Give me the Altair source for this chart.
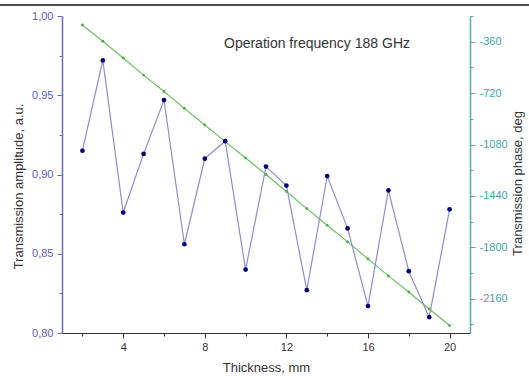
import altair as alt
import pandas as pd

thickness = [2, 3, 4, 5, 6, 7, 8, 9, 10, 11, 12, 13, 14, 15, 16, 17, 18, 19, 20]
amplitude = [0.915, 0.972, 0.876, 0.913, 0.947, 0.856, 0.910, 0.921, 0.840, 0.905,
             0.893, 0.827, 0.899, 0.866, 0.817, 0.890, 0.839, 0.810, 0.878]
phase = [-243, -357, -474, -594, -709, -827, -943, -1060, -1174, -1290,
         -1409, -1529, -1646, -1762, -1881, -2000, -2113, -2232, -2348]

x_ticks = [2, 4, 6, 8, 10, 12, 14, 16, 18, 20]
amp_ticks = [0.80, 0.825, 0.85, 0.875, 0.90, 0.925, 0.95, 0.975, 1.00]
phase_ticks = [-2340, -2160, -1980, -1800, -1620, -1440, -1260, -1080, -900,
               -720, -540, -360, -180]

df = pd.DataFrame({"t": thickness, "amp": amplitude, "ph": phase})

FONT = "Liberation Sans"
AMP_AXIS = "#6a6ac6"
AMP_LABEL = "#5a5abf"
PH_AXIS = "#52adad"
PH_LABEL = "#3ea6a6"

x_enc = alt.X(
    "t:Q",
    scale=alt.Scale(domain=[1, 21], nice=False),
    axis=alt.Axis(
        title="Thickness, mm",
        values=x_ticks,
        labelExpr="datum.value % 4 == 0 ? datum.label : ''",
        tickSize={"condition": {"test": "datum.value % 4 == 0", "value": 5}, "value": 3},
        domainColor="#333333",
        tickColor="#333333",
        labelColor="#333333",
        titleColor="#333333",
        labelFontSize=11,
        titleFontSize=13,
        titleFontWeight="normal",
        labelPadding=3,
        titleY=34,
        titleBaseline="middle",
        grid=False,
    ),
)

base_ph = alt.Chart(df).encode(
    x=x_enc,
    y=alt.Y(
        "ph:Q",
        scale=alt.Scale(domain=[-2400, -180], nice=False, zero=False),
        axis=alt.Axis(
            orient="right",
            title="Transmission phase, deg",
            values=phase_ticks,
            labelExpr="datum.value % 360 == 0 ? '-' + abs(datum.value) : ''",
            tickSize={"condition": {"test": "datum.value % 360 == 0", "value": 5}, "value": 3},
            domainColor=PH_AXIS,
            tickColor=PH_AXIS,
            labelColor=PH_LABEL,
            titleColor="#333333",
            domainWidth=1.5,
            labelFontSize=11,
            titleFontSize=13,
            titleFontWeight="normal",
            labelPadding=4,
            titleAngle=-90,
            titleX=47,
            titleY=167,
            titleBaseline="middle",
            grid=False,
        ),
    ),
)
ph_line = base_ph.mark_line(color="#6cbf5c", strokeWidth=1.2)
ph_pts = base_ph.mark_point(filled=True, color="#4caf44", size=8, opacity=1)

base_amp = alt.Chart(df).encode(
    x=x_enc,
    y=alt.Y(
        "amp:Q",
        scale=alt.Scale(domain=[0.80, 1.00], nice=False, zero=False),
        axis=alt.Axis(
            orient="left",
            title="Transmission amplitude, a.u.",
            values=amp_ticks,
            labelExpr="round(datum.value*1000) % 50 == 0 ? replace(format(datum.value, '.2f'), '.', ',') : ''",
            tickSize={"condition": {"test": "round(datum.value*1000) % 50 == 0", "value": 5}, "value": 3},
            domainColor=AMP_AXIS,
            tickColor=AMP_AXIS,
            labelColor=AMP_LABEL,
            titleColor="#333333",
            domainWidth=1.5,
            labelFontSize=11,
            titleFontSize=13,
            titleFontWeight="normal",
            labelPadding=4,
            titleAngle=-90,
            titleX=-44,
            titleY=170,
            titleBaseline="middle",
            grid=False,
        ),
    ),
)
amp_line = base_amp.mark_line(color="#8c8cd2", strokeWidth=1.2)
amp_pts = base_amp.mark_point(filled=True, color="#00007a", size=22, opacity=1)

title_df = pd.DataFrame({"txt": ["Operation frequency 188 GHz"]})
title_mark = alt.Chart(title_df).mark_text(
    font=FONT, fontSize=14, color="#333333", align="center", baseline="middle"
).encode(text="txt:N", x=alt.value(255), y=alt.value(28))

top_rule = alt.Chart(pd.DataFrame({"a": [0]})).mark_rule(
    color="#111111", strokeWidth=1.3
).encode(x=alt.value(-62), x2=alt.value(467), y=alt.value(-11))

chart = (
    alt.layer(
        alt.layer(ph_line, ph_pts),
        alt.layer(amp_line, amp_pts),
        title_mark,
        top_rule,
    )
    .resolve_scale(y="independent")
    .properties(
        width=408,
        height=317,
        autosize=alt.AutoSizeParams(type="none"),
        padding={"left": 62, "top": 16, "right": 59, "bottom": 43},
        background="white",
    )
    .configure_view(stroke=None)
    .configure_axis(labelFont=FONT, titleFont=FONT)
    .configure_text(font=FONT)
)

chart.save("out.html", embed_options={"renderer": "svg", "actions": False})
